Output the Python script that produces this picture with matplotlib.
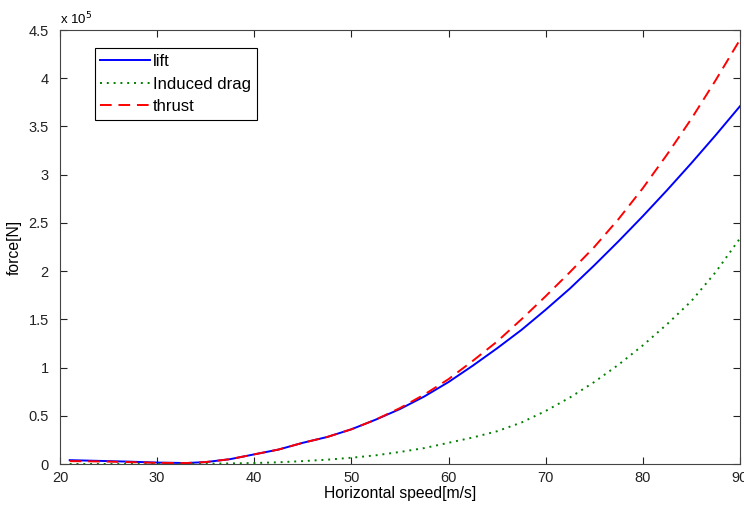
import matplotlib
matplotlib.use('Agg')
import matplotlib.pyplot as plt

plt.rcParams['font.family'] = ['Liberation Sans', 'DejaVu Sans']

# horizontal speed [m/s]
speed = [21, 23, 25, 27, 30, 33, 35, 37.5, 40, 42.5, 45, 47.5, 50, 52.5, 55, 57.5,
         60, 62.5, 65, 67.5, 70, 72.5, 75, 77.5, 80, 82.5, 85, 87.5, 90]
# forces in units of 1e5 N
lift = [0.04, 0.035, 0.03, 0.025, 0.015, 0.01, 0.02, 0.05, 0.10, 0.15, 0.22, 0.28, 0.36, 0.46, 0.57, 0.70,
        0.85, 1.02, 1.20, 1.39, 1.60, 1.82, 2.06, 2.31, 2.57, 2.84, 3.12, 3.41, 3.71]
drag = [0.0, 0.0, 0.0, 0.0, 0.0, 0.0, 0.003, 0.006, 0.01, 0.018, 0.03, 0.045, 0.065, 0.09, 0.125, 0.165,
        0.22, 0.275, 0.34, 0.43, 0.55, 0.69, 0.85, 1.03, 1.23, 1.45, 1.69, 1.99, 2.34]
thrust = [0.03, 0.028, 0.025, 0.02, 0.012, 0.01, 0.02, 0.05, 0.10, 0.15, 0.22, 0.28, 0.36, 0.46, 0.58, 0.72,
          0.88, 1.07, 1.27, 1.50, 1.74, 1.99, 2.25, 2.54, 2.86, 3.21, 3.58, 3.98, 4.40]

fig = plt.figure(figsize=(7.44, 5.13), dpi=100)
ax = fig.add_axes([0.0806, 0.0955, 0.914, 0.846])

ax.plot(speed, lift, color='blue', lw=1.4, label='lift')
ax.plot(speed, drag, color='green', lw=1.4, linestyle=(0, (1, 2.5)), label='Induced drag')
ax.plot(speed, thrust, color='red', lw=1.4, linestyle=(0, (6, 3.5)), label='thrust')

ax.set_xlim(20, 90)
ax.set_ylim(0, 4.5)
ax.set_xticks(range(20, 91, 10))
yt = [i * 0.5 for i in range(10)]
ax.set_yticks(yt)
ax.set_yticklabels(['%g' % v for v in yt])
ax.tick_params(direction='in', top=True, right=True, length=5, labelsize=10.5, colors='#222222')
ax.tick_params(axis='x', pad=5)
ax.tick_params(axis='y', pad=8)
for s in ax.spines.values():
    s.set_color('#444444')

ax.set_xlabel('Horizontal speed[m/s]', fontsize=11.3, labelpad=1)
ax.set_ylabel('force[N]', fontsize=11.3, labelpad=5)
ax.text(0.0, 1.006, r'x 10$^5$', transform=ax.transAxes, fontsize=9.5, va='bottom', ha='left')

leg = ax.legend(loc='upper left', bbox_to_anchor=(0.051, 0.958), fontsize=12,
                fancybox=False, edgecolor='black', framealpha=1, handlelength=3.0,
                borderpad=0.35, labelspacing=0.45, handletextpad=0.15, borderaxespad=0)
leg.get_frame().set_linewidth(0.8)

fig.savefig('out.png', dpi=100)
